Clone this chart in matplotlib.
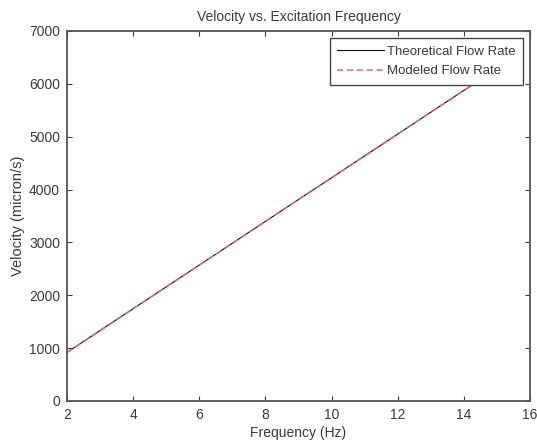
import matplotlib
matplotlib.use("Agg")
import matplotlib.pyplot as plt

frequency = [2, 3, 4, 5, 6, 7, 8, 9, 10, 11, 12, 13, 14, 15]
theoretical = [920, 1333, 1746, 2159, 2572, 2985, 3398, 3811, 4224, 4637, 5050, 5463, 5876, 6289]
modeled = [918, 1331, 1747, 2161, 2571, 2984, 3399, 3812, 4223, 4636, 5051, 5464, 5875, 6288]
x_ticks = [2, 4, 6, 8, 10, 12, 14, 16]
y_ticks = [0, 1000, 2000, 3000, 4000, 5000, 6000, 7000]

plt.rcParams['font.family'] = ['Liberation Sans', 'DejaVu Sans']
fig = plt.figure(figsize=(5.37, 4.41), dpi=100)
ax = fig.add_axes([67 / 537, 40 / 441, 463 / 537, 370 / 441])

txt = '#3a3a3a'
ax.plot(frequency, theoretical, color='#111111', lw=0.8, label='Theoretical Flow Rate')
ax.plot(frequency, modeled, color='#e06474', lw=1.1, ls=(0, (4, 2.5)), label='Modeled Flow Rate')

ax.set_xlim(2, 16)
ax.set_ylim(0, 7000)
ax.set_xticks(x_ticks)
ax.set_yticks(y_ticks)
ax.tick_params(direction='in', top=True, right=True, labelsize=10, colors=txt,
               length=3.5, width=0.8, pad=5)
for s in ax.spines.values():
    s.set_color('#555555')
    s.set_linewidth(1.3)

ax.set_title('Velocity vs. Excitation Frequency', fontsize=10, color=txt, pad=7)
ax.set_xlabel('Frequency (Hz)', fontsize=10, color=txt, labelpad=3)
ax.set_ylabel('Velocity (micron/s)', fontsize=10.5, color=txt, labelpad=2.5)

leg = ax.legend(loc='upper right', fontsize=9.5, frameon=True, fancybox=False,
                edgecolor='#444444', framealpha=1, handlelength=3.5,
                borderpad=0.55, labelspacing=0.55, handletextpad=0.25,
                borderaxespad=0.55)
leg.get_frame().set_linewidth(1.0)
for t in leg.get_texts():
    t.set_color(txt)

fig.savefig('out.png', dpi=100)
